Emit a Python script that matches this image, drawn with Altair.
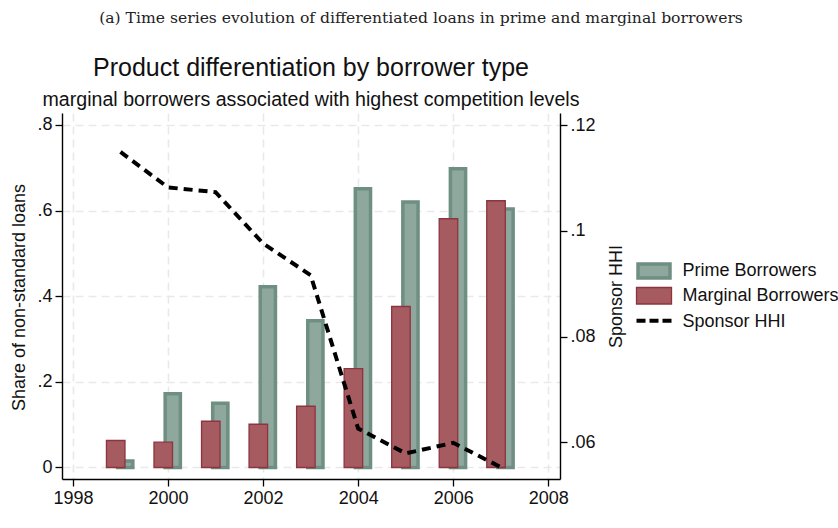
import altair as alt
import pandas as pd

# Share of non-standard loans by borrower type, and sponsor concentration
years = [1999, 2000, 2001, 2002, 2003, 2004, 2005, 2006, 2007]
prime_share = [0.015, 0.172, 0.150, 0.422, 0.343, 0.651, 0.620, 0.698, 0.604]
marginal_share = [0.063, 0.059, 0.108, 0.101, 0.143, 0.231, 0.376, 0.581, 0.623]
sponsor_hhi = [0.1149, 0.1082, 0.1073, 0.0976, 0.0916, 0.0626, 0.0579, 0.0599, 0.0553]

legend_labels = ["Prime Borrowers", "Marginal Borrowers", "Sponsor HHI"]

PRIME_FILL = "#8fa89d"
PRIME_LINE = "#6f8f82"
MARG_FILL = "#a65b60"
MARG_LINE = "#8c3440"
SANS = "Liberation Sans"
FS = 18

W, H = 498, 366

df = pd.DataFrame({
    "year": years,
    "prime": prime_share,
    "marginal": marginal_share,
    "hhi": sponsor_hhi,
})

base = alt.Chart(df)
x_scale = alt.Scale(domain=[1997.77, 2008.246], nice=False, zero=False)
left_scale = alt.Scale(domain=[-0.0269, 0.828], nice=False, zero=False)
right_scale = alt.Scale(domain=[0.05306, 0.12227], nice=False, zero=False)

x_axis = alt.Axis(
    values=[1998, 2000, 2002, 2004, 2006, 2008], format="d", title=None,
    grid=True, gridColor="#e9e9e9", gridDash=[8, 5], gridWidth=1.6,
    domainColor="black", domainWidth=1.4, tickColor="black", tickSize=7,
    tickWidth=1.3, labelFont=SANS, labelFontSize=FS, labelColor="#111",
    labelPadding=3,
)
left_axis = alt.Axis(
    values=[0, 0.2, 0.4, 0.6, 0.8],
    labelExpr="datum.value == 0 ? '0' : substring(format(datum.value, '.1f'), 1)",
    title="Share of non-standard loans", titleFont=SANS, titleFontSize=FS,
    titleFontWeight="normal", titleColor="#111", titleX=-43, titleY=184,
    titleAngle=270, titleAlign="center", titleBaseline="middle",
    grid=True, gridColor="#e9e9e9", gridDash=[8, 5], gridWidth=1.6,
    domainColor="black", domainWidth=1.4, tickColor="black", tickSize=7,
    tickWidth=1.3, labelFont=SANS, labelFontSize=FS, labelColor="#111",
    labelPadding=3,
)
right_axis = alt.Axis(
    orient="right", values=[0.06, 0.08, 0.1, 0.12],
    labelExpr="substring(format(datum.value, '.2~f'), 1)",
    title="Sponsor HHI", titleFont=SANS, titleFontSize=FS,
    titleFontWeight="normal", titleColor="#111", titleX=56, titleY=183,
    titleAngle=270, titleAlign="center", titleBaseline="middle",
    grid=False, domainColor="black", domainWidth=1.4, tickColor="black",
    tickSize=7, tickWidth=1.3, labelFont=SANS, labelFontSize=FS,
    labelColor="#111", labelPadding=3,
)

prime_bars = base.transform_calculate(
    x0="datum.year + 0.1 - 0.16", x1="datum.year + 0.1 + 0.16"
).mark_rect(
    fill=PRIME_FILL, stroke=PRIME_LINE, strokeWidth=3.5
).encode(
    x=alt.X("x0:Q", scale=x_scale, axis=x_axis),
    x2="x1:Q",
    y=alt.Y("prime:Q", scale=left_scale, axis=left_axis),
    y2=alt.datum(0),
)

marginal_bars = base.transform_calculate(
    x0="datum.year - 0.1 - 0.195", x1="datum.year - 0.1 + 0.195"
).mark_rect(
    fill=MARG_FILL, stroke=MARG_LINE, strokeWidth=1.3
).encode(
    x=alt.X("x0:Q", scale=x_scale, axis=x_axis),
    x2="x1:Q",
    y=alt.Y("marginal:Q", scale=left_scale, axis=left_axis),
    y2=alt.datum(0),
)

hhi_line = base.mark_line(
    color="black", strokeWidth=4, strokeDash=[9, 6]
).encode(
    x=alt.X("year:Q", scale=x_scale, axis=x_axis),
    y=alt.Y("hhi:Q", scale=right_scale, axis=right_axis),
)

bars = alt.layer(prime_bars, marginal_bars)


def label(text, x, y, size, font=SANS, color="#111"):
    return alt.Chart(pd.DataFrame({"t": [text]})).mark_text(
        font=font, fontSize=size, color=color, align="center",
        baseline="middle"
    ).encode(text="t:N", x=alt.value(x), y=alt.value(y))


caption = label(
    "(a) Time series evolution of differentiated loans in prime and marginal borrowers",
    359, -95, 15.6, font="DejaVu Serif", color="#222",
)
title = label("Product differentiation by borrower type", 249, -45, 25)
subtitle = label(
    "marginal borrowers associated with highest competition levels",
    249, -13, 19.6,
)

# Legend keys
leg = pd.DataFrame({"label": legend_labels})
prime_key = alt.Chart(leg.iloc[[0]]).mark_rect(
    fill=PRIME_FILL, stroke=PRIME_LINE, strokeWidth=3.5
).encode(x=alt.value(576), x2=alt.value(608), y=alt.value(151), y2=alt.value(165))
marg_key = alt.Chart(leg.iloc[[1]]).mark_rect(
    fill=MARG_FILL, stroke=MARG_LINE, strokeWidth=1.3
).encode(x=alt.value(574.5), x2=alt.value(609.5), y=alt.value(174.5), y2=alt.value(191))
hhi_key = alt.Chart(leg.iloc[[2]]).mark_rule(
    color="black", strokeWidth=4, strokeDash=[9, 4]
).encode(x=alt.value(574.5), x2=alt.value(611), y=alt.value(207.7))
leg_text = alt.Chart(leg).transform_window(
    row="row_number()"
).transform_calculate(
    ly="158 + (datum.row - 1) * 25.3"
).mark_text(
    font=SANS, fontSize=FS, color="#111", align="left", baseline="middle"
).encode(
    text="label:N", x=alt.value(620.5),
    y=alt.Y("ly:Q", scale=None, axis=None),
)

chart = alt.layer(
    bars, hhi_line, caption, title, subtitle, prime_key, marg_key, hhi_key, leg_text
).resolve_scale(
    y="independent"
).properties(
    width=W, height=H,
    autosize=alt.AutoSizeParams(type="none"),
    padding={"left": 62, "top": 113, "right": 838 - 62 - W, "bottom": 528 - 113 - H},
    background="white",
).configure_view(strokeWidth=0)

chart.save("out.html", embed_options={"renderer": "svg", "actions": False})
